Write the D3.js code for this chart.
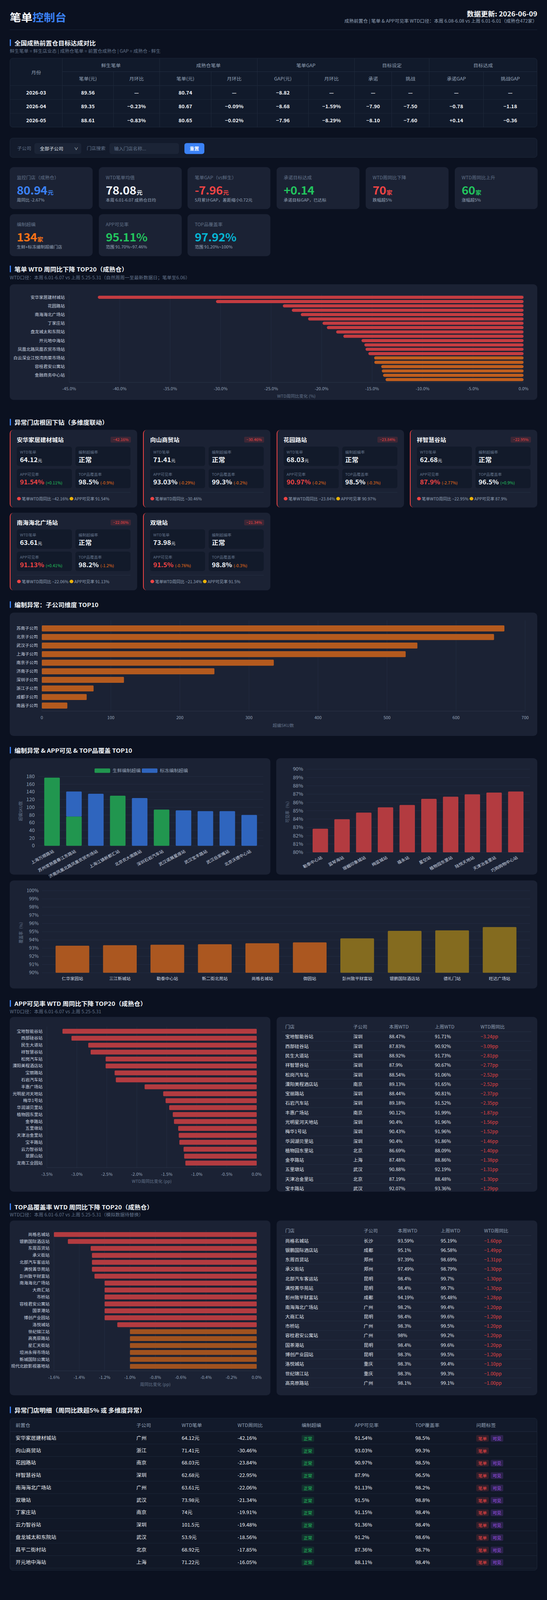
<!DOCTYPE html>
<html lang="zh-CN">
<head>
<meta charset="utf-8">
<title>笔单控制台</title>
<script src="https://cdn.jsdelivr.net/npm/d3@7"></script>
<style>
  html, body { margin: 0; background: #0b1120; }
  body { font-family: "Noto Sans CJK SC", "Noto Sans", sans-serif; color: #e2e8f0; overflow: hidden; }
  /* 截图高度上限 4096，整页纵向等比压缩以完整显示 */
  #page { position: relative; width: 1400px; height: 4385px; overflow: hidden; transform-origin: 0 0; }
  .card { position: absolute; background: #1b2234; border-radius: 10px; }
  .clip { overflow: hidden; }
  .sec-title { position: absolute; left: 25px; height: 18px; line-height: 18px; border-left: 3px solid #3b82f6; padding-left: 9px; font-size: 16px; font-weight: 700; color: #f1f5f9; white-space: nowrap; }
  .sec-sub { position: absolute; left: 25px; font-size: 12px; color: #64748b; white-space: nowrap; line-height: 16px; }
  .cell { position: absolute; box-sizing: border-box; white-space: nowrap; }
  .kpi-label { position: absolute; left: 18px; top: 19px; font-size: 12px; color: #64748b; line-height: 18px; white-space: nowrap; }
  .kpi-val { position: absolute; left: 18px; top: 43px; font-size: 30px; font-weight: 700; line-height: 38px; letter-spacing: -0.5px; white-space: nowrap; }
  .kpi-val small { font-size: 15px; font-weight: 700; margin-left: 1px; }
  .kpi-sub { position: absolute; left: 18px; top: 81px; font-size: 11px; color: #94a3b8; line-height: 16px; white-space: nowrap; }
  .mini { position: absolute; width: 141px; height: 53px; background: #121a2a; border-radius: 6px; }
  .mini .l { position: absolute; left: 8px; top: 8px; font-size: 10px; color: #64748b; line-height: 14px; white-space: nowrap; }
  .mini .v { position: absolute; left: 8px; top: 23px; font-size: 17px; font-weight: 700; line-height: 24px; white-space: nowrap; color: #f1f5f9; }
  .mini .v small { font-size: 10.5px; font-weight: 400; }
  .tag { display: inline-block; font-size: 11px; line-height: 18px; padding: 0 5px; border-radius: 3px; margin-right: 5px; }
  .tag.ok { color: #22c55e; background: rgba(34,197,94,0.14); }
  .tag.bill { color: #ef4444; background: rgba(239,68,68,0.16); }
  .tag.vis { color: #a855f7; background: rgba(168,85,247,0.18); }
</style>
</head>
<body>
<div id="page"></div>
<script>
// ===== 数据 / data =====
// 月度目标对比
const months = ["2026-03", "2026-04", "2026-05"];
const freshBill = [89.56, 89.35, 88.61];
const freshMom = [null, -0.23, -0.83];
const matureBill = [80.74, 80.67, 80.65];
const matureMom = [null, -0.09, -0.02];
const gapBill = [-8.82, -8.68, -7.96];
const gapMom = [null, -1.59, -8.29];
const targetCommit = [null, -7.90, -8.10];
const targetChallenge = [null, -7.50, -7.60];
const commitGap = [null, -0.78, 0.14];
const challengeGap = [null, -1.18, -0.36];
const monthGroups = ["鲜生笔单", "成熟仓笔单", "笔单GAP", "目标设定", "目标达成"];
const monthHeads = ["笔单(元)", "月环比", "笔单(元)", "月环比", "GAP(元)", "月环比", "承诺", "挑战", "承诺GAP", "挑战GAP"];

// KPI 卡片
const kpiLabels = ["监控门店（成熟仓）", "WTD笔单均值", "笔单GAP（vs鲜生）", "承诺目标达成", "WTD周同比下降", "WTD周同比上升", "编制超编", "APP可见率", "TOP品覆盖率"];
const kpiValues = ["80.94", "78.08", "-7.96", "+0.14", "70", "60", "134", "95.11%", "97.92%"];
const kpiUnits = ["元", "元", "元", "", "家", "家", "家", "", ""];
const kpiSubs = ["周同比 -2.67%", "本周 6.01-6.07 成熟仓日均", "5月累计GAP，差距缩小0.72元", "承诺目标GAP，已达标", "跌幅超5%", "涨幅超5%", "生鲜+标冻编制超编门店", "范围 91.70%~97.46%", "范围 91.20%~100%"];
const kpiTone = ["blue", "white", "red", "green", "red", "green", "orange", "green", "cyan"];

// 笔单 WTD 周同比下降 TOP20
const wtdStores = ["安华家居建材城站", "向山商贸站", "花园路站", "祥智慧谷站", "南海海北广场站", "双墩站", "丁家庄站", "云力智谷站", "盘龙城太和东院站", "昌平二街村站", "开元地中海站", "宝龙广场站", "凤凰北路凤凰农贸市场站", "万达华府站", "白云深业江悦湾肉菜市场站", "东湖花园站", "容桂君安公寓站", "光谷步行街站", "金融商务中心站", "新港东站"];
const wtdChange = [-42.16, -30.46, -23.84, -22.95, -22.06, -21.34, -19.91, -19.48, -18.56, -17.85, -16.05, -15.77, -15.65, -15.37, -14.80, -14.78, -14.10, -14.04, -13.92, -13.67];

// 异常门店根因下钻
const anomStores = ["安华家居建材城站", "向山商贸站", "花园路站", "祥智慧谷站", "南海海北广场站", "双墩站"];
const anomWtd = [-42.16, -30.46, -23.84, -22.95, -22.06, -21.34];
const anomBill = [64.12, 71.41, 68.03, 62.68, 63.61, 73.98];
const anomStaff = ["正常", "正常", "正常", "正常", "正常", "正常"];
const anomApp = [91.54, 93.03, 90.97, 87.9, 91.13, 91.5];
const anomAppDelta = [0.11, -0.29, -0.2, -2.77, 0.41, -0.76];
const anomTop = [98.5, 99.3, 98.5, 96.5, 98.2, 98.8];
const anomTopDelta = [-0.9, -0.2, -0.3, 0.9, -1.2, -0.3];

// 编制异常：子公司维度 TOP10
const subCompanies = ["苏南子公司", "北京子公司", "武汉子公司", "上海子公司", "南京子公司", "济南子公司", "深圳子公司", "浙江子公司", "成都子公司", "南昌子公司"];
const subOverSku = [670, 655, 544, 527, 336, 250, 119, 75, 65, 37];

// 编制超编门店 TOP10
const staffStores = ["上海万顺路站", "苏州常熟震春江东路站", "济南凤凰北路凤凰农贸市场站", "上海江镇新都汇站", "北京农大南路站", "深圳石岩汽车站", "武汉诺展星座站", "武汉宝丰路站", "武汉岳家嘴站", "北京沃德中心站"];
const staffFresh = [177, 76, 0, 130, 0, 94, 0, 0, 0, 0];
const staffFrozen = [0, 65, 135, 0, 124, 0, 92, 90, 90, 80];

// APP可见率最低 TOP10
const appLowStores = ["勒泰中心站", "蓝琴海站", "璟樾印象城站", "绚蓝城站", "福永站", "星空站", "植物园东里站", "陆悦天地站", "天津冶金里站", "巧购购物中心站"];
const appLowRate = [82.84, 83.98, 84.78, 85.41, 85.69, 86.43, 86.69, 86.98, 87.19, 87.32];

// TOP品覆盖率最低 TOP10
const topLowStores = ["仁华家园站", "三江新城站", "勒泰中心站", "新二街北苑站", "尚格名城站", "御园站", "彭州致平财富站", "银鹏国际酒店站", "德礼门站", "旺达广场站"];
const topLowRate = [93.30, 93.36, 93.41, 93.48, 93.59, 93.70, 94.19, 95.10, 95.17, 95.57];

// APP可见率 WTD 周同比下降 TOP20
const appDropStores = ["宝地智能谷站", "西部硅谷站", "民生大道站", "祥智慧谷站", "松岗汽车站", "溧阳美程酒店站", "宝丽路站", "石岩汽车站", "丰惠广场站", "光明星河天地站", "梅华1号站", "华润湖贝里站", "植物园东里站", "金亭路站", "五里墩站", "天津冶金里站", "宝丰路站", "云力智谷站", "翠屏山站", "龙南工业园站"];
const appDropPp = [-3.24, -3.09, -2.81, -2.77, -2.52, -2.52, -2.37, -2.35, -1.87, -1.56, -1.52, -1.46, -1.40, -1.38, -1.31, -1.30, -1.29, -1.22, -1.21, -1.19];
const appDropSub = ["深圳", "深圳", "深圳", "深圳", "深圳", "南京", "深圳", "深圳", "南京", "深圳", "深圳", "深圳", "北京", "上海", "武汉", "北京", "武汉"];
const appDropCur = ["88.47%", "87.83%", "88.92%", "87.9%", "88.54%", "89.13%", "88.44%", "89.18%", "90.12%", "90.4%", "90.43%", "90.4%", "86.69%", "87.48%", "90.88%", "87.19%", "92.07%"];
const appDropPrev = ["91.71%", "90.92%", "91.73%", "90.67%", "91.06%", "91.65%", "90.81%", "91.52%", "91.99%", "91.96%", "91.96%", "91.86%", "88.09%", "88.86%", "92.19%", "88.48%", "93.36%"];

// TOP品覆盖率 WTD 周同比下降 TOP20
const topDropStores = ["尚格名城站", "银鹏国际酒店站", "东周百货站", "承义街站", "北部汽车客运站", "满悦菁华苑站", "彭州致平财富站", "南海海北广场站", "大商汇站", "市桥站", "容桂君安公寓站", "国茶港站", "博创产业园站", "洛悦城站", "世纪锦江站", "高亮原路站", "星汇天街站", "坦洲永得市场站", "新城国际公寓站", "现代北欧影视基地站"];
const topDropPp = [-1.60, -1.49, -1.31, -1.30, -1.30, -1.30, -1.28, -1.20, -1.20, -1.20, -1.20, -1.20, -1.20, -1.10, -1.00, -1.00, -1.00, -1.00, -1.00, -1.00];
const topDropSub = ["长沙", "成都", "郑州", "郑州", "昆明", "昆明", "成都", "广州", "昆明", "广州", "广州", "昆明", "昆明", "重庆", "重庆", "广州"];
const topDropCur = ["93.59%", "95.1%", "97.39%", "97.49%", "98.4%", "98.4%", "94.19%", "98.2%", "98.4%", "98.3%", "98%", "98.4%", "98.3%", "98.3%", "98.3%", "98.1%"];
const topDropPrev = ["95.19%", "96.58%", "98.69%", "98.79%", "99.7%", "99.7%", "95.48%", "99.4%", "99.6%", "99.5%", "99.2%", "99.6%", "99.5%", "99.4%", "99.3%", "99.1%"];

// 异常门店明细
const detStores = ["安华家居建材城站", "向山商贸站", "花园路站", "祥智慧谷站", "南海海北广场站", "双墩站", "丁家庄站", "云力智谷站", "盘龙城太和东院站", "昌平二街村站", "开元地中海站"];
const detSub = ["广州", "浙江", "南京", "深圳", "广州", "武汉", "南京", "深圳", "武汉", "北京", "上海"];
const detBill = ["64.12元", "71.41元", "68.03元", "62.68元", "63.61元", "73.98元", "74元", "101.5元", "53.9元", "68.92元", "71.22元"];
const detWtd = ["-42.16%", "-30.46%", "-23.84%", "-22.95%", "-22.06%", "-21.34%", "-19.91%", "-19.48%", "-18.56%", "-17.85%", "-16.05%"];
const detStaff = ["正常", "正常", "正常", "正常", "正常", "正常", "正常", "正常", "正常", "正常", "正常"];
const detApp = ["91.54%", "93.03%", "90.97%", "87.9%", "91.13%", "91.5%", "91.15%", "91.36%", "91.2%", "87.36%", "88.11%"];
const detTop = ["98.5%", "99.3%", "98.5%", "96.5%", "98.2%", "98.8%", "98.4%", "98.4%", "98.6%", "98.7%", "98.4%"];
const detTags = [["笔单", "可见"], ["笔单"], ["笔单", "可见"], ["笔单", "可见"], ["笔单", "可见"], ["笔单", "可见"], ["笔单", "可见"], ["笔单", "可见"], ["笔单", "可见"], ["笔单", "可见"], ["笔单", "可见"]];

// ===== 颜色 / palette =====
const tone = { blue: "#3b82f6", white: "#f1f5f9", red: "#ef4444", green: "#22c55e", orange: "#f97316", cyan: "#06b6d4" };
const grid = "#242e42";
const tickColor = "#94a3b8";
const catColor = "#cbd5e1";

const page = d3.select("#page");
const fmt2 = d3.format(".2f");

// 窗口可见高度不足时整体纵向压缩
const fitH = Math.min(window.innerHeight || 4385, 4096, 4385);
page.style("transform", `scale(1, ${fitH / 4385})`);
d3.select("body").style("height", fitH + "px");

// 小工具 helpers
function card(x, y, w, h) {
  return page.append("div").attr("class", "card")
    .style("left", x + "px").style("top", y + "px")
    .style("width", w + "px").style("height", h + "px");
}
function sectionTitle(y, s) {
  page.append("div").attr("class", "sec-title").style("top", (y - 9) + "px").text(s);
}
function sectionSub(y, s) {
  page.append("div").attr("class", "sec-sub").style("top", (y - 8) + "px").text(s);
}
// 绝对定位的单元格
function cell(parent, x, y, w, h, txt) {
  return parent.append("div").attr("class", "cell")
    .style("left", x + "px").style("top", y + "px").style("width", w + "px").style("height", h + "px")
    .style("line-height", h + "px").text(txt);
}

// ===== 头部 header =====
page.append("div").style("position", "absolute").style("left", "25px").style("top", "26px")
  .style("font-size", "29px").style("font-weight", "700").style("line-height", "40px")
  .html('<span style="color:#f8fafc">笔单</span><span style="color:#3b82f6">控制台</span>');
page.append("div").style("position", "absolute").style("left", "775px").style("width", "600px").style("top", "24px")
  .style("text-align", "right").style("font-size", "18px").style("font-weight", "700").style("line-height", "26px").style("color", "#f8fafc")
  .text("数据更新: 2026-06-09");
page.append("div").style("position", "absolute").style("left", "575px").style("width", "800px").style("top", "49px")
  .style("text-align", "right").style("font-size", "12px").style("line-height", "16px").style("color", "#94a3b8")
  .text("成熟前置仓 | 笔单 & APP可见率 WTD口径：本周 6.08-6.08 vs 上周 6.01-6.01（成熟仓472家）");
page.append("div").style("position", "absolute").style("left", "25px").style("top", "81px")
  .style("width", "1350px").style("height", "1px").style("background", "#1e293b");

// ===== 全国成熟前置仓目标达成对比 =====
sectionTitle(117, "全国成熟前置仓目标达成对比");
sectionSub(140, "鲜生笔单 = 鲜生店业态 | 成熟仓笔单 = 前置仓成熟仓 | GAP = 成熟仓 - 鲜生");

{
  const dash = v => v === null ? "—" : fmt2(v);
  const pct = v => v === null ? "—" : fmt2(v) + "%";
  const signed = v => v === null ? "—" : (v > 0 ? "+" : "") + fmt2(v);
  const mt = page.append("div").style("position", "absolute").style("left", "25px").style("top", "159px")
    .style("width", "1350px").style("height", "190px").style("background", "#111a2b")
    .style("border", "1px solid #1e293b").style("border-radius", "8px").style("overflow", "hidden").style("box-sizing", "border-box");
  const widths = [134, 131, 118, 132, 118, 131, 118, 95, 96, 139, 136];
  const xs = widths.map((w, i) => d3.sum(widths.slice(0, i)));
  const line = "1px solid #1e293b";
  const head = c => c.style("color", "#94a3b8").style("font-size", "12.5px").style("text-align", "center");
  head(cell(mt, 0, 0, widths[0], 75, "月份")).style("border-right", line).style("border-bottom", line);
  monthGroups.forEach((g, k) => {
    const i = 1 + k * 2;
    head(cell(mt, xs[i], 0, widths[i] + widths[i + 1], 37, g)).style("border-right", k < 4 ? line : "none").style("border-bottom", "1px solid #243044");
  });
  monthHeads.forEach((h, k) => {
    const i = k + 1;
    head(cell(mt, xs[i], 37, widths[i], 38, h)).style("border-right", i < 10 ? line : "none").style("border-bottom", "1px solid #243044");
  });
  months.forEach((m, r) => {
    const vals = [m, dash(freshBill[r]), pct(freshMom[r]), dash(matureBill[r]), pct(matureMom[r]), dash(gapBill[r]), pct(gapMom[r]),
      dash(targetCommit[r]), dash(targetChallenge[r]), signed(commitGap[r]), signed(challengeGap[r])];
    vals.forEach((v, i) => {
      cell(mt, xs[i], 75 + r * 38, widths[i], 38, v)
        .style("text-align", "center").style("font-size", "13px").style("font-weight", "700").style("color", "#f1f5f9")
        .style("border-right", i < 10 ? line : "none").style("border-bottom", r < 2 ? line : "none");
    });
  });
}

// ===== 筛选 filter =====
{
  const fc = page.append("div").style("position", "absolute").style("left", "25px").style("top", "378px")
    .style("width", "1350px").style("height", "54px").style("background", "#131b2c").style("box-sizing", "border-box")
    .style("border", "1px solid #1e293b").style("border-radius", "8px");
  fc.append("div").style("position", "absolute").style("left", "18px").style("top", "18px").style("font-size", "12px").style("color", "#64748b").text("子公司");
  fc.append("div").style("position", "absolute").style("left", "62px").style("top", "13px").style("width", "120px").style("height", "30px")
    .style("background", "#1b2436").style("border-radius", "6px").style("font-size", "12px").style("line-height", "30px").style("color", "#e2e8f0")
    .html('<span style="margin-left:14px">全部子公司</span><span style="position:absolute;right:8px;font-size:10px">∨</span>');
  fc.append("div").style("position", "absolute").style("left", "196px").style("top", "18px").style("font-size", "12px").style("color", "#64748b").text("门店搜索");
  fc.append("div").style("position", "absolute").style("left", "254px").style("top", "13px").style("width", "178px").style("height", "30px")
    .style("background", "#1b2436").style("border-radius", "6px").style("font-size", "12px").style("line-height", "30px").style("color", "#64748b")
    .html('<span style="margin-left:12px">输入门店名称...</span>');
  fc.append("div").style("position", "absolute").style("left", "446px").style("top", "13px").style("width", "51px").style("height", "30px")
    .style("background", "#3b82f6").style("border-radius", "6px").style("font-size", "12px").style("line-height", "30px").style("color", "#fff")
    .style("text-align", "center").style("font-weight", "700").text("重置");
}

// ===== KPI =====
kpiLabels.forEach((lab, i) => {
  const col = i % 6, row = Math.floor(i / 6);
  const c = card(25 + col * 227.7, 458 + row * 129, 212, 115);
  c.append("div").attr("class", "kpi-label").text(lab);
  c.append("div").attr("class", "kpi-val").style("color", tone[kpiTone[i]])
    .html(kpiValues[i] + (kpiUnits[i] ? "<small>" + kpiUnits[i] + "</small>" : ""));
  c.append("div").attr("class", "kpi-sub").text(kpiSubs[i]);
});

// ===== 各分区卡片 =====
sectionTitle(737, "笔单 WTD 周同比下降 TOP20（成熟仓）");
sectionSub(760, "WTD口径：本周 6.01-6.07 vs 上周 5.25-5.31（自然周周一至最新数据日；笔单至6.06）");
card(25, 779, 1350, 317);

sectionTitle(1157, "异常门店根因下钻（多维度联动）");

sectionTitle(1657, "编制异常：子公司维度 TOP10");
card(25, 1679, 1350, 338);

sectionTitle(2056, "编制异常 & APP可见 & TOP品覆盖 TOP10");
card(25, 2078, 667, 319);
card(707, 2078, 668, 319);
card(25, 2413, 1350, 296);

sectionTitle(2750, "APP可见率 WTD 周同比下降 TOP20（成熟仓）");
sectionSub(2772, "WTD口径：本周 6.01-6.07 vs 上周 5.25-5.31");
card(25, 2787, 667, 479);
const appCard = card(708, 2787, 667, 479).classed("clip", true);

sectionTitle(3307, "TOP品覆盖率 WTD 周同比下降 TOP20（成熟仓）");
sectionSub(3329, "WTD口径：本周 6.01-6.07 vs 上周 5.25-5.31（模拟数据待替换）");
card(25, 3345, 667, 479);
const topCard = card(708, 3345, 667, 479).classed("clip", true);

sectionTitle(3864, "异常门店明细（周同比跌超5% 或 多维度异常）");

// ===== 异常门店卡片 =====
function deltaHtml(d) {
  const col = d >= 0 ? "#22c55e" : "#f97316";
  return ' <small style="color:' + col + '">(' + (d >= 0 ? "+" : "") + d + "%)</small>";
}
anomStores.forEach((name, i) => {
  const col = i % 4, row = Math.floor(i / 4);
  const c = card(25 + col * 341.25, 1178 + row * 227, 326, 213)
    .style("border-left", "2px solid #ef4444").style("box-sizing", "border-box");
  c.append("div").style("position", "absolute").style("left", "16px").style("top", "16px").style("white-space", "nowrap")
    .style("font-size", "15px").style("font-weight", "700").style("line-height", "22px").style("color", "#f8fafc").text(name);
  c.append("div").style("position", "absolute").style("right", "16px").style("top", "19px").style("height", "16px")
    .style("padding", "0 6px").style("background", "rgba(239,68,68,0.16)").style("border-radius", "3px").style("white-space", "nowrap")
    .style("font-size", "10px").style("line-height", "16px").style("color", "#ef4444").text(fmt2(anomWtd[i]) + "%");

  const boxes = [
    ["WTD笔单", fmt2(anomBill[i]) + '<small style="font-size:11px">元</small>', "#f1f5f9"],
    ["编制超编率", anomStaff[i], "#f1f5f9"],
    ["APP可见率", anomApp[i] + "%" + deltaHtml(anomAppDelta[i]), anomApp[i] < 92 ? "#ef4444" : "#f1f5f9"],
    ["TOP品覆盖率", anomTop[i] + "%" + deltaHtml(anomTopDelta[i]), "#f1f5f9"]
  ];
  boxes.forEach((b, j) => {
    const m = c.append("div").attr("class", "mini")
      .style("left", (16 + (j % 2) * 150) + "px").style("top", (46 + Math.floor(j / 2) * 61) + "px");
    m.append("div").attr("class", "l").text(b[0]);
    m.append("div").attr("class", "v").style("color", b[2]).html(b[1]);
  });
  c.append("div").style("position", "absolute").style("left", "16px").style("top", "171px")
    .style("width", "291px").style("height", "1px").style("background", "#263044");
  let foot = '<span style="color:#ef4444">●</span> 笔单WTD周同比 ' + fmt2(anomWtd[i]) + "%";
  if (anomApp[i] < 92) foot += ' <span style="color:#eab308">●</span> APP可见率 ' + anomApp[i] + "%";
  c.append("div").style("position", "absolute").style("left", "16px").style("top", "181px")
    .style("font-size", "10.5px").style("line-height", "16px").style("color", "#94a3b8").style("white-space", "nowrap").html(foot);
});

// ===== 右侧表格 =====
function rightTable(parent, top, lefts, stores, subs, cur, prev, pp) {
  const t = parent.append("div").style("position", "absolute").style("left", "13px").style("top", top + "px")
    .style("width", "639px").style("height", (27 + subs.length * 26) + "px");
  t.append("div").attr("class", "cell").style("left", 0).style("top", "26px").style("width", "639px")
    .style("height", "1px").style("background", "#2a3447");
  ["门店", "子公司", "本周WTD", "上周WTD", "WTD周同比"].forEach((s, k) =>
    cell(t, lefts[k], 0, 130, 26, s).style("font-size", "12px").style("color", "#94a3b8"));
  subs.forEach((s, i) => {
    const y = 27 + i * 26;
    t.append("div").attr("class", "cell").style("left", 0).style("top", (y + 25) + "px").style("width", "639px")
      .style("height", "1px").style("background", "#263044");
    [stores[i], s, cur[i], prev[i], fmt2(pp[i]) + "pp"].forEach((v, k) =>
      cell(t, lefts[k], y, 170, 25, v).style("font-size", "12px").style("color", k === 4 ? "#ef4444" : "#e2e8f0"));
  });
}
rightTable(appCard, 14, [9, 183, 275, 392, 509], appDropStores, appDropSub, appDropCur, appDropPrev, appDropPp);
rightTable(topCard, 15, [9, 210, 297, 407, 518], topDropStores, topDropSub, topDropCur, topDropPrev, topDropPp);

// ===== 明细表 =====
{
  const bt = page.append("div").style("position", "absolute").style("left", "25px").style("top", "3886px")
    .style("width", "1350px").style("height", "418px").style("background", "#111827").style("box-sizing", "border-box")
    .style("border", "1px solid #1e293b").style("border-radius", "8px").style("overflow", "hidden");
  const lefts = [14, 323, 439, 582, 746, 882, 1037, 1193];
  bt.append("div").attr("class", "cell").style("left", 0).style("top", 0).style("width", "1350px").style("height", "37px")
    .style("background", "#121a2b").style("border-bottom", "1px solid #263044");
  ["前置仓", "子公司", "WTD笔单", "WTD周同比", "编制超编", "APP可见率", "TOP覆盖率", "问题标签"].forEach((s, k) =>
    cell(bt, lefts[k], 0, 150, 37, s).style("font-size", "12.5px").style("color", "#94a3b8"));
  detStores.forEach((s, i) => {
    const y = 37 + i * 34;
    bt.append("div").attr("class", "cell").style("left", 0).style("top", (y + 33) + "px").style("width", "1350px")
      .style("height", "1px").style("background", "#1e293b");
    [s, detSub[i], detBill[i], detWtd[i], null, detApp[i], detTop[i], null].forEach((v, k) => {
      if (v !== null) cell(bt, lefts[k], y, 200, 33, v).style("font-size", "13px").style("color", "#f1f5f9");
    });
    cell(bt, lefts[4], y, 120, 33, "").append("span").attr("class", "tag ok").text(detStaff[i]);
    const tg = cell(bt, lefts[7], y, 140, 33, "");
    detTags[i].forEach(t => tg.append("span").attr("class", "tag " + (t === "笔单" ? "bill" : "vis")).text(t));
  });
}

// ===== SVG 图表层 =====
const svg = page.append("svg").attr("width", 1400).attr("height", 4385)
  .style("position", "absolute").style("left", 0).style("top", 0).style("pointer-events", "none")
  .style("font-family", '"Noto Sans CJK SC", "Noto Sans", sans-serif');

// 横向条形图 (负值)
function negBars(opt) {
  const g = svg.append("g");
  const x = d3.scaleLinear().domain([opt.min, 0]).range([opt.x0, opt.x1]);
  const y = d3.scaleBand().domain(opt.names).range([opt.y0, opt.y1]).padding(opt.pad);
  g.selectAll("line.grid").data(opt.ticks).join("line")
    .attr("x1", d => x(d)).attr("x2", d => x(d)).attr("y1", opt.y0).attr("y2", opt.y1)
    .attr("stroke", grid).attr("stroke-width", 1);
  g.append("line").attr("x1", opt.x0).attr("x2", opt.x1).attr("y1", opt.y1).attr("y2", opt.y1).attr("stroke", "#2c364a");
  g.selectAll("rect").data(opt.values).join("rect")
    .attr("x", d => x(d)).attr("width", d => x(0) - x(d))
    .attr("y", (d, i) => y(opt.names[i])).attr("height", y.bandwidth())
    .attr("rx", opt.round ? y.bandwidth() / 2 : 2)
    .attr("fill", opt.color);
  g.selectAll("text.cat").data(opt.names.filter((d, i) => i % opt.every === 0)).join("text")
    .attr("x", opt.x0 - 11).attr("y", d => y(d) + y.bandwidth() / 2).attr("dy", "0.35em")
    .attr("text-anchor", "end").attr("font-size", 11).attr("fill", catColor).text(d => d);
  g.selectAll("text.tick").data(opt.ticks).join("text")
    .attr("x", d => x(d)).attr("y", opt.y1 + 18).attr("dy", "0.35em")
    .attr("text-anchor", "middle").attr("font-size", 11).attr("fill", tickColor).text(opt.fmt);
  g.append("text").attr("x", (opt.x0 + opt.x1) / 2).attr("y", opt.y1 + 38).attr("dy", "0.35em")
    .attr("text-anchor", "middle").attr("font-size", 11).attr("fill", "#64748b").text(opt.title);
}

negBars({
  names: wtdStores, values: wtdChange, min: -45, x0: 177, x1: 1340, y0: 807, y1: 1048, pad: 0.28,
  ticks: d3.range(-45, 0.1, 5), fmt: d => d.toFixed(1) + "%", every: 2, round: true,
  color: d => d <= -15 ? "#c43c41" : "#c05e1e", title: "WTD周同比变化 (%)"
});
negBars({
  names: appDropStores, values: appDropPp, min: -3.5, x0: 120, x1: 657, y0: 2814, y1: 3200, pad: 0.3,
  ticks: d3.range(-3.5, 0.01, 0.5), fmt: d => d.toFixed(1) + "%", every: 1, round: false,
  color: () => "#b33b40", title: "WTD周同比变化 (pp)"
});
negBars({
  names: topDropStores, values: topDropPp, min: -1.6, x0: 138, x1: 657, y0: 3371, y1: 3757, pad: 0.3,
  ticks: d3.range(-1.6, 0.01, 0.2), fmt: d => d.toFixed(1) + "%", every: 1, round: false,
  color: d => d < -1.05 ? "#b33b40" : "#a0521f", title: "周同比变化 (pp)"
});

// 子公司超编 (正值横条)
{
  const g = svg.append("g");
  const x = d3.scaleLinear().domain([0, 700]).range([107, 1344]);
  const y = d3.scaleBand().domain(subCompanies).range([1707, 1949]).padding(0.3);
  g.selectAll("line").data(x.ticks(7)).join("line")
    .attr("x1", d => x(d)).attr("x2", d => x(d)).attr("y1", 1700).attr("y2", 1949).attr("stroke", grid);
  g.append("line").attr("x1", 107).attr("x2", 1344).attr("y1", 1949).attr("y2", 1949).attr("stroke", "#2c364a");
  g.selectAll("rect").data(subOverSku).join("rect")
    .attr("x", x(0)).attr("width", d => x(d) - x(0))
    .attr("y", (d, i) => y(subCompanies[i])).attr("height", y.bandwidth())
    .attr("rx", 2).attr("fill", "#b45a1e");
  g.selectAll("text.cat").data(subCompanies).join("text")
    .attr("x", 97).attr("y", d => y(d) + y.bandwidth() / 2).attr("dy", "0.35em")
    .attr("text-anchor", "end").attr("font-size", 11).attr("fill", catColor).text(d => d);
  g.selectAll("text.tick").data(x.ticks(7)).join("text")
    .attr("x", d => x(d)).attr("y", 1967).attr("dy", "0.35em")
    .attr("text-anchor", "middle").attr("font-size", 11).attr("fill", tickColor).text(d => d);
  g.append("text").attr("x", 725).attr("y", 1988).attr("dy", "0.35em")
    .attr("text-anchor", "middle").attr("font-size", 11).attr("fill", "#64748b").text("超编SKU数");
}

// 纵向柱状图通用
function vAxis(g, y, ticks, x0, x1, fmt, size) {
  g.selectAll("line.grid").data(ticks).join("line")
    .attr("x1", x0).attr("x2", x1).attr("y1", d => y(d)).attr("y2", d => y(d)).attr("stroke", grid);
  g.selectAll("text.tick").data(ticks).join("text")
    .attr("x", x0 - 8).attr("y", d => y(d)).attr("dy", "0.35em")
    .attr("text-anchor", "end").attr("font-size", size).attr("fill", tickColor).text(fmt);
}
function yTitle(g, x, y, s) {
  g.append("text").attr("transform", `translate(${x},${y}) rotate(-90)`).attr("dy", "0.35em")
    .attr("text-anchor", "middle").attr("font-size", 11).attr("fill", "#64748b").text(s);
}

// 编制超编 stacked
{
  const g = svg.append("g");
  const x = d3.scaleBand().domain(staffStores).range([97, 674]).padding(0.29);
  const y = d3.scaleLinear().domain([0, 180]).range([2318, 2128]);
  vAxis(g, y, d3.range(0, 181, 20), 97, 674, d => d, 13);
  const rows = staffStores.map((s, i) => ({ store: s, fresh: staffFresh[i], frozen: staffFrozen[i] }));
  const series = d3.stack().keys(["fresh", "frozen"])(rows);
  const color = d3.scaleOrdinal().domain(["fresh", "frozen"]).range(["#21964f", "#2f65be"]);
  g.selectAll("g.layer").data(series).join("g").attr("fill", d => color(d.key))
    .selectAll("rect").data(d => d.filter(p => p[1] > p[0])).join("rect")
    .attr("x", d => x(d.data.store)).attr("width", x.bandwidth())
    .attr("y", d => y(d[1])).attr("height", d => y(d[0]) - y(d[1])).attr("rx", 2);
  g.selectAll("text.cat").data(staffStores).join("text")
    .attr("transform", d => `translate(${x(d) + x.bandwidth() / 2 + 4},${2332}) rotate(-30)`)
    .attr("dy", "0.35em").attr("text-anchor", "end").attr("font-size", 11).attr("fill", catColor).text(d => d);
  yTitle(g, 53, 2223, "超编SKU数");
  const leg = g.append("g");
  [["生鲜编制超编", "fresh", 242], ["标冻编制超编", "frozen", 363]].forEach(([t, k, lx]) => {
    leg.append("rect").attr("x", lx).attr("y", 2106).attr("width", 40).attr("height", 12).attr("rx", 2).attr("fill", color(k));
    leg.append("text").attr("x", lx + 46).attr("y", 2112).attr("dy", "0.35em").attr("font-size", 12).attr("fill", tickColor).text(t);
  });
}

// APP可见率最低
{
  const g = svg.append("g");
  const x = d3.scaleBand().domain(appLowStores).range([784, 1356]).padding(0.29);
  const y = d3.scaleLinear().domain([80, 90]).range([2336, 2108]);
  vAxis(g, y, d3.range(80, 90.1, 1), 784, 1356, d => d + "%", 13);
  g.selectAll("rect").data(appLowRate).join("rect")
    .attr("x", (d, i) => x(appLowStores[i])).attr("width", x.bandwidth())
    .attr("y", d => y(d)).attr("height", d => y(80) - y(d)).attr("rx", 2).attr("fill", "#b33b40");
  g.selectAll("text.cat").data(appLowStores).join("text")
    .attr("transform", d => `translate(${x(d) + x.bandwidth() / 2 + 4},${2349}) rotate(-30)`)
    .attr("dy", "0.35em").attr("text-anchor", "end").attr("font-size", 11).attr("fill", catColor).text(d => d);
  yTitle(g, 736, 2222, "可见率（%）");
}

// TOP品覆盖率最低
{
  const g = svg.append("g");
  const x = d3.scaleBand().domain(topLowStores).range([107, 1357]).padding(0.29);
  const y = d3.scaleLinear().domain([90, 100]).range([2666, 2441]);
  vAxis(g, y, d3.range(90, 100.1, 1), 107, 1357, d => d + "%", 12);
  g.selectAll("rect").data(topLowRate).join("rect")
    .attr("x", (d, i) => x(topLowStores[i])).attr("width", x.bandwidth())
    .attr("y", d => y(d)).attr("height", d => y(90) - y(d)).attr("rx", 2)
    .attr("fill", d => d < 94 ? "#ab5720" : "#846b1f");
  g.selectAll("text.cat").data(topLowStores).join("text")
    .attr("x", d => x(d) + x.bandwidth() / 2).attr("y", 2682).attr("dy", "0.35em")
    .attr("text-anchor", "middle").attr("font-size", 11).attr("fill", catColor).text(d => d);
  yTitle(g, 54, 2553, "覆盖率（%）");
}
</script>
</body>
</html>
